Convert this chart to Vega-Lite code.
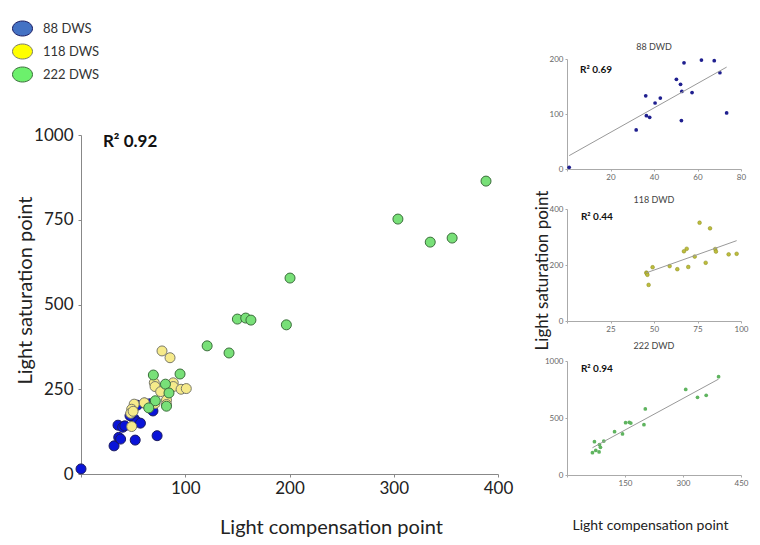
{
  "$schema": "https://vega.github.io/schema/vega-lite/v6.json",
  "padding": {"left": 12, "top": 18, "right": 5, "bottom": 5},
  "config": {
    "view": {"stroke": null},
    "font": "Lato",
    "axis": {"grid": false, "format": "d"}
  },
  "datasets": {
    "main": [
      {"group": "88 DWS", "lcp": 0, "lsp": 15},
      {"group": "88 DWS", "lcp": 31.7, "lsp": 83},
      {"group": "88 DWS", "lcp": 36.2, "lsp": 108},
      {"group": "88 DWS", "lcp": 38, "lsp": 103},
      {"group": "88 DWS", "lcp": 35.5, "lsp": 144},
      {"group": "88 DWS", "lcp": 40, "lsp": 138},
      {"group": "88 DWS", "lcp": 42, "lsp": 142},
      {"group": "88 DWS", "lcp": 52, "lsp": 100},
      {"group": "88 DWS", "lcp": 73, "lsp": 113},
      {"group": "88 DWS", "lcp": 51, "lsp": 163},
      {"group": "88 DWS", "lcp": 53.4, "lsp": 154},
      {"group": "88 DWS", "lcp": 57, "lsp": 150},
      {"group": "88 DWS", "lcp": 54, "lsp": 203},
      {"group": "88 DWS", "lcp": 61, "lsp": 209},
      {"group": "88 DWS", "lcp": 66, "lsp": 207},
      {"group": "88 DWS", "lcp": 69, "lsp": 186},
      {"group": "88 DWS", "lcp": 47, "lsp": 172},
      {"group": "118 DWS", "lcp": 77.7, "lsp": 363},
      {"group": "118 DWS", "lcp": 85.4, "lsp": 343},
      {"group": "118 DWS", "lcp": 70.3, "lsp": 269},
      {"group": "118 DWS", "lcp": 71, "lsp": 258},
      {"group": "118 DWS", "lcp": 88.5, "lsp": 269},
      {"group": "118 DWS", "lcp": 88.5, "lsp": 258},
      {"group": "118 DWS", "lcp": 76.4, "lsp": 243},
      {"group": "118 DWS", "lcp": 96, "lsp": 250},
      {"group": "118 DWS", "lcp": 101, "lsp": 252},
      {"group": "118 DWS", "lcp": 82, "lsp": 218},
      {"group": "118 DWS", "lcp": 51, "lsp": 206},
      {"group": "118 DWS", "lcp": 60.7, "lsp": 210},
      {"group": "118 DWS", "lcp": 48.6, "lsp": 191},
      {"group": "118 DWS", "lcp": 47.7, "lsp": 179},
      {"group": "118 DWS", "lcp": 48.6, "lsp": 140},
      {"group": "118 DWS", "lcp": 71, "lsp": 208},
      {"group": "118 DWS", "lcp": 82, "lsp": 205},
      {"group": "118 DWS", "lcp": 50, "lsp": 185},
      {"group": "222 DWS", "lcp": 388.5, "lsp": 864},
      {"group": "222 DWS", "lcp": 304, "lsp": 752},
      {"group": "222 DWS", "lcp": 335, "lsp": 684},
      {"group": "222 DWS", "lcp": 356, "lsp": 696},
      {"group": "222 DWS", "lcp": 200.5, "lsp": 578},
      {"group": "222 DWS", "lcp": 150, "lsp": 457},
      {"group": "222 DWS", "lcp": 158, "lsp": 460},
      {"group": "222 DWS", "lcp": 163, "lsp": 454},
      {"group": "222 DWS", "lcp": 197, "lsp": 440},
      {"group": "222 DWS", "lcp": 121, "lsp": 378},
      {"group": "222 DWS", "lcp": 142, "lsp": 357},
      {"group": "222 DWS", "lcp": 95, "lsp": 295},
      {"group": "222 DWS", "lcp": 69.4, "lsp": 292},
      {"group": "222 DWS", "lcp": 81, "lsp": 265},
      {"group": "222 DWS", "lcp": 84.4, "lsp": 239},
      {"group": "222 DWS", "lcp": 71.3, "lsp": 216},
      {"group": "222 DWS", "lcp": 65, "lsp": 195},
      {"group": "222 DWS", "lcp": 82, "lsp": 200}
    ],
    "panels": [
      {"group": "88", "lcp": 1, "lsp": 3},
      {"group": "88", "lcp": 31.8, "lsp": 71},
      {"group": "88", "lcp": 36.2, "lsp": 133},
      {"group": "88", "lcp": 36.5, "lsp": 97},
      {"group": "88", "lcp": 38, "lsp": 94},
      {"group": "88", "lcp": 40.5, "lsp": 120},
      {"group": "88", "lcp": 42.9, "lsp": 129},
      {"group": "88", "lcp": 50.3, "lsp": 163},
      {"group": "88", "lcp": 52.2, "lsp": 154},
      {"group": "88", "lcp": 52.8, "lsp": 141},
      {"group": "88", "lcp": 52.6, "lsp": 88},
      {"group": "88", "lcp": 53.8, "lsp": 193},
      {"group": "88", "lcp": 57.5, "lsp": 139},
      {"group": "88", "lcp": 61.8, "lsp": 198},
      {"group": "88", "lcp": 67.7, "lsp": 197},
      {"group": "88", "lcp": 70.3, "lsp": 175},
      {"group": "88", "lcp": 73.4, "lsp": 102},
      {"group": "118", "lcp": 45.6, "lsp": 173},
      {"group": "118", "lcp": 45.8, "lsp": 170},
      {"group": "118", "lcp": 46.2, "lsp": 165},
      {"group": "118", "lcp": 46.9, "lsp": 129},
      {"group": "118", "lcp": 49.2, "lsp": 192},
      {"group": "118", "lcp": 59, "lsp": 196},
      {"group": "118", "lcp": 63.4, "lsp": 185},
      {"group": "118", "lcp": 69.7, "lsp": 193},
      {"group": "118", "lcp": 67.2, "lsp": 249},
      {"group": "118", "lcp": 68.8, "lsp": 258},
      {"group": "118", "lcp": 73.4, "lsp": 230},
      {"group": "118", "lcp": 76.2, "lsp": 351},
      {"group": "118", "lcp": 79.7, "lsp": 208},
      {"group": "118", "lcp": 82.2, "lsp": 331},
      {"group": "118", "lcp": 85.2, "lsp": 257},
      {"group": "118", "lcp": 85.6, "lsp": 248},
      {"group": "118", "lcp": 92.9, "lsp": 238},
      {"group": "118", "lcp": 97.5, "lsp": 240},
      {"group": "222", "lcp": 65.8, "lsp": 196},
      {"group": "222", "lcp": 71, "lsp": 292},
      {"group": "222", "lcp": 74.4, "lsp": 216},
      {"group": "222", "lcp": 83, "lsp": 202},
      {"group": "222", "lcp": 84, "lsp": 266},
      {"group": "222", "lcp": 86.5, "lsp": 243},
      {"group": "222", "lcp": 95.2, "lsp": 298},
      {"group": "222", "lcp": 123, "lsp": 380},
      {"group": "222", "lcp": 143.6, "lsp": 360},
      {"group": "222", "lcp": 151.5, "lsp": 459},
      {"group": "222", "lcp": 161, "lsp": 462},
      {"group": "222", "lcp": 165, "lsp": 456},
      {"group": "222", "lcp": 199, "lsp": 441},
      {"group": "222", "lcp": 202.5, "lsp": 579},
      {"group": "222", "lcp": 307, "lsp": 751},
      {"group": "222", "lcp": 337.5, "lsp": 681},
      {"group": "222", "lcp": 360, "lsp": 699},
      {"group": "222", "lcp": 392, "lsp": 862}
    ]
  },
  "bounds": "flush",
  "spacing": 69,
  "hconcat": [
    {
      "width": 417,
      "height": 415,
      "layer": [
        {
          "data": {"name": "main"},
          "mark": {"type": "circle", "size": 0, "opacity": 0},
          "encoding": {
            "x": {"field": "lcp", "type": "quantitative"},
            "y": {"field": "lsp", "type": "quantitative"},
            "color": {
              "field": "group", "type": "nominal",
              "scale": {"domain": ["88 DWS", "118 DWS", "222 DWS"], "range": ["#4472c4", "#ffff00", "#6cf06c"]},
              "legend": {
                "orient": "none", "legendX": -69, "legendY": -41,
                "title": null,
                "labelFontSize": 13, "labelColor": "#333", "labelOffset": 10,
                "symbolType": "M-1,0A1,0.75,0,1,1,1,0A1,0.75,0,1,1,-1,0Z",
                "symbolSize": 400, "rowPadding": 3,
                "symbolOpacity": 1, "symbolStrokeWidth": 1, "symbolStrokeColor": "#555"
              }
            }
          }
        },
        {
          "data": {"name": "main"},
          "mark": {"type": "circle", "size": 100, "opacity": 1, "strokeWidth": 1},
          "encoding": {
            "x": {
              "field": "lcp", "type": "quantitative",
              "scale": {"domain": [0, 400], "nice": false},
              "axis": {
                "values": [0, 100, 200, 300, 400],
                "format": "d",
                "labelExpr": "datum.value == 0 ? '' : datum.label",
                "labelFlush": false,
                "labelFontSize": 17, "labelColor": "#222", "labelPadding": 3,
                "tickSize": 3, "tickColor": "#888", "domainColor": "#888",
                "title": "Light compensation point",
                "titleFontSize": 20, "titleFontWeight": "normal", "titleColor": "#222",
                "titleX": 250, "titleY": 53, "titleBaseline": "middle"
              }
            },
            "y": {
              "field": "lsp", "type": "quantitative",
              "scale": {"domain": [0, 1000], "nice": false, "range": [415, 76]},
              "axis": {
                "values": [0, 250, 500, 750, 1000],
                "format": "d",
                "labelFlush": false,
                "labelFontSize": 17, "labelColor": "#222", "labelPadding": 5,
                "tickSize": 3, "tickColor": "#888", "domainColor": "#888",
                "title": "Light saturation point",
                "titleFontSize": 20, "titleFontWeight": "normal", "titleColor": "#222",
                "titleX": -56, "titleY": 231, "titleBaseline": "middle"
              }
            },
            "fill": {
              "field": "group", "type": "nominal",
              "scale": {"domain": ["88 DWS", "118 DWS", "222 DWS"], "range": ["#0a14d8", "#f6ea8a", "#78e078"]},
              "legend": null
            },
            "stroke": {
              "field": "group", "type": "nominal",
              "scale": {"domain": ["88 DWS", "118 DWS", "222 DWS"], "range": ["#1a1a60", "#7a7a6a", "#3c6e3c"]},
              "legend": null
            }
          }
        },
        {
          "data": {"values": [{}]},
          "mark": {"type": "text", "align": "left", "baseline": "middle", "fontSize": 17, "fontWeight": "bold", "color": "#111"},
          "encoding": {
            "x": {"datum": 21, "type": "quantitative"},
            "y": {"datum": 979, "type": "quantitative"},
            "text": {"value": "R² 0.92"}
          }
        }
      ]
    },
    {
      "bounds": "flush",
      "spacing": 40,
      "vconcat": [
        {
          "width": 174,
          "height": 110,
          "title": {"text": "88 DWD", "fontSize": 9, "fontWeight": "normal", "color": "#444", "offset": 3},
          "layer": [
            {
              "data": {"name": "panels"},
              "transform": [{"filter": "datum.group == '88'"}],
              "mark": {"type": "circle", "size": 14, "opacity": 1, "color": "#1f1f8f"},
              "encoding": {
                "x": {
                  "field": "lcp", "type": "quantitative",
                  "scale": {"domain": [0, 80], "nice": false},
                  "axis": {"values": [0, 20, 40, 60, 80], "format": "d", "labelExpr": "datum.value == 0 ? '' : datum.label", "labelFlush": false, "title": null, "labelFontSize": 8, "labelColor": "#666", "labelPadding": 2, "tickSize": 2, "tickColor": "#aaa", "domainColor": "#aaa"}
                },
                "y": {
                  "field": "lsp", "type": "quantitative",
                  "scale": {"domain": [0, 200], "nice": false},
                  "axis": {"values": [0, 50, 100, 150, 200], "format": "d", "labelFlush": false, "title": null, "labelFontSize": 8, "labelColor": "#666", "labelPadding": 2, "tickSize": 2, "tickColor": "#aaa", "domainColor": "#aaa"}
                }
              }
            },
            {
              "data": {"name": "panels"},
              "transform": [{"filter": "datum.group == '88'"}, {"regression": "lsp", "on": "lcp"}],
              "mark": {"type": "line", "color": "#999", "strokeWidth": 1},
              "encoding": {
                "x": {"field": "lcp", "type": "quantitative"},
                "y": {"field": "lsp", "type": "quantitative"}
              }
            },
            {
              "data": {"values": [{}]},
              "mark": {"type": "text", "align": "left", "baseline": "middle", "fontSize": 10, "fontWeight": "bold", "color": "#111"},
              "encoding": {
                "x": {"datum": 6, "type": "quantitative"},
                "y": {"datum": 180, "type": "quantitative"},
                "text": {"value": "R² 0.69"}
              }
            }
          ]
        },
        {
          "width": 174,
          "height": 112,
          "title": {"text": "118 DWD", "fontSize": 9, "fontWeight": "normal", "color": "#444", "offset": 7, "dy": 22},
          "layer": [
            {
              "data": {"name": "panels"},
              "transform": [{"filter": "datum.group == '118'"}],
              "mark": {"type": "circle", "size": 14, "opacity": 1, "color": "#bdbd3c", "stroke": "#8a8a20", "strokeWidth": 0.5},
              "encoding": {
                "x": {
                  "field": "lcp", "type": "quantitative",
                  "scale": {"domain": [0, 100], "nice": false},
                  "axis": {"values": [0, 25, 50, 75, 100], "format": "d", "labelExpr": "datum.value == 0 ? '' : datum.label", "labelFlush": false, "title": null, "labelFontSize": 8, "labelColor": "#666", "labelPadding": 2, "tickSize": 2, "tickColor": "#aaa", "domainColor": "#aaa"}
                },
                "y": {
                  "field": "lsp", "type": "quantitative",
                  "scale": {"domain": [0, 400], "nice": false},
                  "axis": {
                    "values": [0, 100, 200, 300, 400], "format": "d", "labelFlush": false, "labelFontSize": 8, "labelColor": "#666", "labelPadding": 2, "tickSize": 2, "tickColor": "#aaa", "domainColor": "#aaa",
                    "title": "Light saturation point", "titleFontSize": 17, "titleFontWeight": "normal", "titleColor": "#222",
                    "titleX": -25, "titleY": 61, "titleBaseline": "middle"
                  }
                }
              }
            },
            {
              "data": {"name": "panels"},
              "transform": [{"filter": "datum.group == '118'"}, {"regression": "lsp", "on": "lcp"}],
              "mark": {"type": "line", "color": "#999", "strokeWidth": 1},
              "encoding": {
                "x": {"field": "lcp", "type": "quantitative"},
                "y": {"field": "lsp", "type": "quantitative"}
              }
            },
            {
              "data": {"values": [{}]},
              "mark": {"type": "text", "align": "left", "baseline": "middle", "fontSize": 10, "fontWeight": "bold", "color": "#111"},
              "encoding": {
                "x": {"datum": 8, "type": "quantitative"},
                "y": {"datum": 371, "type": "quantitative"},
                "text": {"value": "R² 0.44"}
              }
            }
          ]
        },
        {
          "width": 174,
          "height": 114,
          "title": {"text": "222 DWD", "fontSize": 9, "fontWeight": "normal", "color": "#444", "offset": 6},
          "layer": [
            {
              "data": {"name": "panels"},
              "transform": [{"filter": "datum.group == '222'"}],
              "mark": {"type": "circle", "size": 14, "opacity": 1, "color": "#5fb45f"},
              "encoding": {
                "x": {
                  "field": "lcp", "type": "quantitative",
                  "scale": {"domain": [0, 450], "nice": false},
                  "axis": {
                    "values": [0, 150, 300, 450], "format": "d", "labelExpr": "datum.value == 0 ? '' : datum.label", "labelFlush": false, "labelFontSize": 8, "labelColor": "#666", "labelPadding": 2, "tickSize": 2, "tickColor": "#aaa", "domainColor": "#aaa",
                    "title": "Light compensation point", "titleFontSize": 14, "titleFontWeight": "normal", "titleColor": "#222",
                    "titleX": 83, "titleY": 50, "titleBaseline": "middle"
                  }
                },
                "y": {
                  "field": "lsp", "type": "quantitative",
                  "scale": {"domain": [0, 1000], "nice": false},
                  "axis": {"values": [0, 250, 500, 750, 1000], "format": "d", "labelFlush": false, "title": null, "labelFontSize": 8, "labelColor": "#666", "labelPadding": 2, "tickSize": 2, "tickColor": "#aaa", "domainColor": "#aaa"}
                }
              }
            },
            {
              "data": {"name": "panels"},
              "transform": [{"filter": "datum.group == '222'"}, {"regression": "lsp", "on": "lcp"}],
              "mark": {"type": "line", "color": "#999", "strokeWidth": 1},
              "encoding": {
                "x": {"field": "lcp", "type": "quantitative"},
                "y": {"field": "lsp", "type": "quantitative"}
              }
            },
            {
              "data": {"values": [{}]},
              "mark": {"type": "text", "align": "left", "baseline": "middle", "fontSize": 10, "fontWeight": "bold", "color": "#111"},
              "encoding": {
                "x": {"datum": 36, "type": "quantitative"},
                "y": {"datum": 930, "type": "quantitative"},
                "text": {"value": "R² 0.94"}
              }
            }
          ]
        }
      ]
    }
  ]
}
